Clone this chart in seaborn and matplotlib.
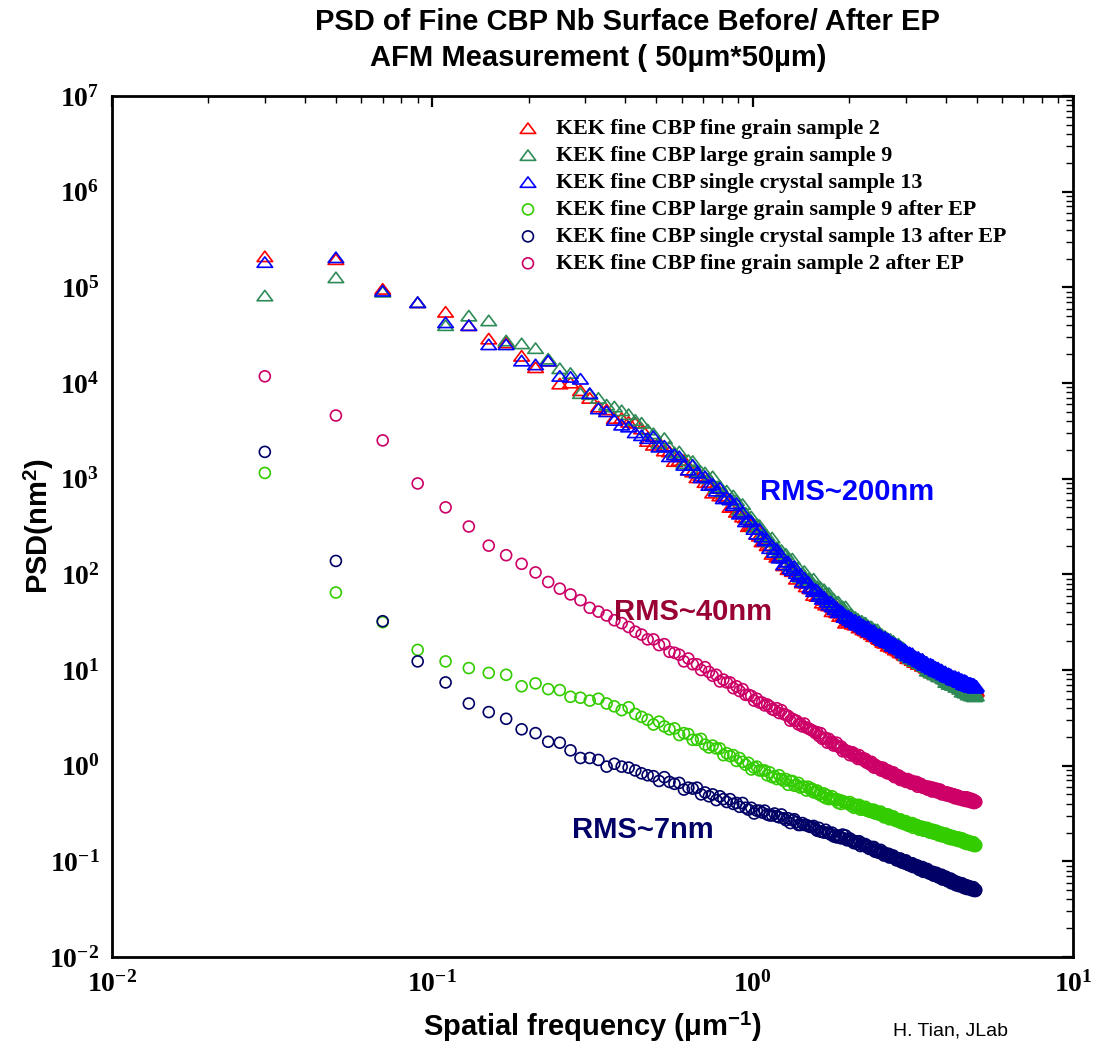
import numpy as np
import pandas as pd
import matplotlib
matplotlib.use("Agg")
import matplotlib.pyplot as plt
from matplotlib.path import Path
from matplotlib.ticker import FixedLocator, FuncFormatter, NullFormatter
import seaborn as sns

# ---------------------------------------------------------------------------
# AFM power spectral density, 50 um x 50 um scans.
# Frequencies follow the FFT grid: first bin 0.03 um^-1, step 0.02 um^-1.
# PSD values are stored as log10(PSD / nm^2).
# ---------------------------------------------------------------------------
f_start, f_step = 0.03, 0.02

# KEK fine CBP fine grain sample 2 (before EP)
fg2_before_log = [
    5.32, 5.29, 4.98, 4.84, 4.74, 4.60, 4.46, 4.42, 4.28, 4.16, 4.23, 3.99, 4.00,
    3.92, 3.84, 3.75, 3.72, 3.63, 3.63, 3.59, 3.58, 3.52, 3.39,
    3.35, 3.38, 3.29, 3.28, 3.18, 3.19, 3.19, 3.09, 3.07, 3.01,
    3.03, 2.96, 2.96, 2.85, 2.91, 2.82, 2.82, 2.80, 2.70, 2.71,
    2.65, 2.68, 2.60, 2.59, 2.50, 2.51, 2.52, 2.42, 2.40, 2.34,
    2.37, 2.30, 2.30, 2.21, 2.27, 2.18, 2.19, 2.18, 2.09, 2.10,
    2.05, 2.10, 2.03, 2.03, 1.95, 1.98, 2.00, 1.91, 1.92, 1.87,
    1.91, 1.85, 1.86, 1.78, 1.85, 1.77, 1.78, 1.79, 1.70, 1.73,
    1.68, 1.74, 1.67, 1.69, 1.61, 1.65, 1.68, 1.60, 1.60, 1.56,
    1.61, 1.56, 1.57, 1.49, 1.57,
    1.51, 1.53, 1.51, 1.48, 1.50, 1.47, 1.49, 1.48, 1.44, 1.45, 1.45, 1.42, 1.45,
    1.41, 1.41, 1.39, 1.41, 1.41, 1.37, 1.38, 1.35, 1.37, 1.35, 1.37, 1.33,
    1.32, 1.34, 1.31, 1.29, 1.31, 1.28, 1.31, 1.29, 1.25, 1.27, 1.27, 1.24, 1.27,
    1.23, 1.24, 1.21, 1.23, 1.24, 1.20, 1.20, 1.18, 1.20, 1.18, 1.20, 1.16,
    1.15, 1.18, 1.15, 1.12, 1.15, 1.12, 1.15, 1.13, 1.10, 1.11, 1.12, 1.08, 1.12,
    1.08, 1.09, 1.06, 1.09, 1.09, 1.06, 1.06, 1.04, 1.06, 1.05, 1.06, 1.03,
    1.02, 1.04, 1.02, 0.99, 1.02, 0.99, 1.02, 1.01, 0.97, 0.99, 1.00, 0.96, 1.00,
    0.96, 0.97, 0.95, 0.97, 0.98, 0.94, 0.95, 0.93, 0.95, 0.94, 0.95, 0.92,
    0.91, 0.94, 0.91, 0.89, 0.92, 0.89, 0.92, 0.91, 0.87, 0.89, 0.90, 0.87, 0.90,
    0.87, 0.88, 0.85, 0.88, 0.89, 0.85, 0.86, 0.84, 0.86, 0.85, 0.87, 0.83,
    0.83, 0.86, 0.84, 0.81, 0.84, 0.82, 0.85, 0.83, 0.80, 0.82, 0.83, 0.79, 0.83,
    0.80, 0.81, 0.78, 0.81, 0.82, 0.79, 0.79, 0.77, 0.80, 0.79, 0.81, 0.77, 0.78,
]

# KEK fine CBP large grain sample 9 (before EP)
lg9_before_log = [
    4.91, 5.10, 4.95, 4.84, 4.60, 4.70, 4.65, 4.44, 4.41, 4.36, 4.25, 4.15, 4.10,
    3.89, 3.88, 3.84, 3.77, 3.75, 3.71, 3.67, 3.61, 3.58, 3.51,
    3.47, 3.37, 3.42, 3.33, 3.27, 3.28, 3.16, 3.19, 3.18, 3.08,
    3.07, 3.06, 3.00, 3.02, 2.90, 2.92, 2.86, 2.87, 2.78, 2.82,
    2.77, 2.67, 2.73, 2.64, 2.59, 2.60, 2.49, 2.52, 2.51, 2.41,
    2.41, 2.40, 2.34, 2.38, 2.26, 2.28, 2.23, 2.25, 2.17, 2.21,
    2.17, 2.09, 2.16, 2.08, 2.04, 2.07, 1.97, 2.01, 2.03, 1.94,
    1.95, 1.95, 1.90, 1.95, 1.84, 1.87, 1.82, 1.86, 1.78, 1.84,
    1.80, 1.73, 1.80, 1.74, 1.70, 1.74, 1.65, 1.70, 1.71, 1.63,
    1.65, 1.66, 1.61, 1.66, 1.56,
    1.58, 1.54, 1.58, 1.55, 1.53, 1.55, 1.50, 1.53, 1.51, 1.49, 1.51, 1.47, 1.49,
    1.49, 1.45, 1.46, 1.43, 1.45, 1.45, 1.42, 1.42, 1.42, 1.38, 1.42, 1.39,
    1.37, 1.33, 1.37, 1.34, 1.32, 1.35, 1.30, 1.33, 1.31, 1.29, 1.32, 1.27, 1.29,
    1.30, 1.26, 1.26, 1.24, 1.26, 1.27, 1.23, 1.23, 1.24, 1.20, 1.23, 1.21,
    1.18, 1.15, 1.18, 1.15, 1.14, 1.16, 1.12, 1.14, 1.13, 1.11, 1.14, 1.09, 1.12,
    1.12, 1.09, 1.09, 1.07, 1.09, 1.10, 1.06, 1.07, 1.07, 1.04, 1.07, 1.05,
    1.03, 0.99, 1.03, 1.00, 0.99, 1.02, 0.97, 1.00, 0.98, 0.97, 1.00, 0.95, 0.98,
    0.98, 0.95, 0.96, 0.93, 0.96, 0.96, 0.93, 0.94, 0.94, 0.91, 0.94, 0.92,
    0.90, 0.87, 0.90, 0.88, 0.87, 0.89, 0.85, 0.88, 0.86, 0.85, 0.88, 0.84, 0.86,
    0.87, 0.84, 0.84, 0.82, 0.85, 0.85, 0.82, 0.83, 0.83, 0.80, 0.84, 0.81,
    0.80, 0.77, 0.81, 0.78, 0.77, 0.80, 0.76, 0.78, 0.77, 0.76, 0.79, 0.74, 0.77,
    0.78, 0.75, 0.75, 0.73, 0.76, 0.77, 0.73, 0.74, 0.75, 0.72, 0.76, 0.73, 0.73,
]

# KEK fine CBP single crystal sample 13 (before EP)
sc13_before_log = [
    5.26, 5.31, 4.96, 4.84, 4.63, 4.60, 4.40, 4.40, 4.23, 4.19, 4.23, 4.07, 4.06,
    4.04, 3.89, 3.73, 3.70, 3.61, 3.56, 3.54, 3.48, 3.45, 3.42,
    3.44, 3.33, 3.34, 3.23, 3.25, 3.23, 3.14, 3.09, 3.14, 3.06,
    3.01, 3.02, 2.93, 2.94, 2.87, 2.90, 2.79, 2.80, 2.78, 2.72,
    2.74, 2.63, 2.65, 2.55, 2.57, 2.55, 2.47, 2.42, 2.47, 2.39,
    2.35, 2.36, 2.27, 2.30, 2.23, 2.26, 2.17, 2.19, 2.10, 2.13,
    2.13, 2.06, 2.04, 2.08, 2.01, 1.98, 2.00, 1.92, 1.96, 1.91,
    1.92, 1.86, 1.85, 1.82, 1.84, 1.83, 1.77, 1.79, 1.74, 1.76,
    1.74, 1.71, 1.68, 1.71, 1.66, 1.68, 1.63, 1.65, 1.60, 1.62,
    1.61, 1.60, 1.55, 1.57, 1.54,
    1.56, 1.52, 1.54, 1.50, 1.51, 1.52, 1.48, 1.47, 1.50, 1.47, 1.45, 1.47, 1.43,
    1.45, 1.42, 1.45, 1.40, 1.41, 1.41, 1.39, 1.41, 1.37, 1.38, 1.35, 1.36,
    1.37, 1.33, 1.35, 1.31, 1.32, 1.34, 1.30, 1.29, 1.32, 1.29, 1.28, 1.29, 1.25,
    1.28, 1.25, 1.27, 1.23, 1.24, 1.25, 1.22, 1.24, 1.21, 1.22, 1.18, 1.20,
    1.21, 1.18, 1.19, 1.15, 1.17, 1.18, 1.15, 1.13, 1.17, 1.14, 1.13, 1.14, 1.11,
    1.13, 1.11, 1.13, 1.09, 1.10, 1.11, 1.08, 1.11, 1.07, 1.09, 1.05, 1.07,
    1.08, 1.05, 1.06, 1.03, 1.04, 1.06, 1.03, 1.01, 1.05, 1.02, 1.01, 1.03, 0.99,
    1.02, 0.99, 1.02, 0.98, 0.99, 1.00, 0.97, 1.00, 0.97, 0.98, 0.95, 0.96,
    0.98, 0.95, 0.96, 0.93, 0.95, 0.96, 0.93, 0.92, 0.95, 0.93, 0.92, 0.93, 0.90,
    0.93, 0.90, 0.93, 0.89, 0.91, 0.91, 0.89, 0.92, 0.88, 0.90, 0.87, 0.88,
    0.90, 0.87, 0.89, 0.85, 0.87, 0.89, 0.86, 0.84, 0.88, 0.86, 0.85, 0.86, 0.83,
    0.86, 0.84, 0.86, 0.82, 0.84, 0.85, 0.82, 0.85, 0.82, 0.84, 0.81, 0.82, 0.83,
]

# KEK fine CBP large grain sample 9 after EP
lg9_after_log = [
    3.06, 1.81, 1.50, 1.21, 1.09, 1.02, 0.97, 0.95, 0.83, 0.86, 0.80, 0.79, 0.72,
    0.71, 0.68, 0.70, 0.65, 0.62, 0.58, 0.61, 0.54, 0.51, 0.48,
    0.43, 0.46, 0.41, 0.38, 0.39, 0.32, 0.34, 0.33, 0.27, 0.27,
    0.28, 0.22, 0.19, 0.21, 0.18, 0.18, 0.11, 0.13, 0.10, 0.11,
    0.05, 0.08, 0.04, 0.01, 0.03, -0.04, -0.02, -0.01, -0.05, -0.05,
    -0.05, -0.10, -0.07, -0.12, -0.11, -0.14, -0.10, -0.14, -0.16, -0.14,
    -0.20, -0.16, -0.16, -0.21, -0.20, -0.18, -0.23, -0.22, -0.22, -0.26,
    -0.22, -0.25, -0.24, -0.28, -0.27, -0.26, -0.30, -0.29, -0.32, -0.29,
    -0.34, -0.31, -0.35, -0.34, -0.32, -0.35, -0.36, -0.35, -0.39, -0.36,
    -0.40, -0.37, -0.38, -0.39, -0.39,
    -0.40, -0.38, -0.42, -0.40, -0.44, -0.42, -0.41, -0.44, -0.41, -0.46, -0.43,
    -0.44, -0.46, -0.43, -0.47, -0.45, -0.48, -0.47, -0.46, -0.49, -0.46, -0.50,
    -0.49, -0.48, -0.51,
    -0.50, -0.48, -0.52, -0.50, -0.54, -0.52, -0.51, -0.54, -0.51, -0.56, -0.53,
    -0.54, -0.56, -0.53, -0.57, -0.55, -0.58, -0.57, -0.56, -0.59, -0.56, -0.60,
    -0.59, -0.58, -0.61,
    -0.60, -0.58, -0.62, -0.60, -0.63, -0.61, -0.61, -0.63, -0.60, -0.65, -0.62,
    -0.63, -0.64, -0.62, -0.65, -0.63, -0.67, -0.65, -0.64, -0.66, -0.64, -0.68,
    -0.66, -0.65, -0.68,
    -0.67, -0.65, -0.69, -0.67, -0.70, -0.68, -0.67, -0.70, -0.67, -0.71, -0.68,
    -0.70, -0.71, -0.68, -0.71, -0.70, -0.73, -0.71, -0.70, -0.73, -0.70, -0.74,
    -0.72, -0.72, -0.74,
    -0.73, -0.71, -0.74, -0.73, -0.76, -0.74, -0.73, -0.75, -0.73, -0.77, -0.74,
    -0.75, -0.76, -0.74, -0.77, -0.75, -0.78, -0.76, -0.76, -0.78, -0.75, -0.79,
    -0.77, -0.77, -0.79,
    -0.78, -0.76, -0.79, -0.78, -0.81, -0.79, -0.78, -0.80, -0.78, -0.82, -0.79,
    -0.80, -0.81, -0.79, -0.82, -0.80, -0.83, -0.81, -0.81, -0.83, -0.80, -0.84,
    -0.82, -0.82, -0.84, -0.83,
]

# KEK fine CBP single crystal sample 13 after EP
sc13_after_log = [
    3.28, 2.14, 1.51, 1.09, 0.87, 0.65, 0.56, 0.49, 0.38, 0.34, 0.25, 0.24, 0.16,
    0.08, 0.08, 0.06, -0.01, 0.02, -0.01, -0.02, -0.05, -0.08, -0.10,
    -0.11, -0.16, -0.12, -0.17, -0.19, -0.18, -0.25, -0.23, -0.24, -0.23,
    -0.30, -0.28, -0.32, -0.30, -0.36, -0.32, -0.35, -0.38, -0.35, -0.40,
    -0.39, -0.43, -0.39, -0.44, -0.46, -0.44, -0.50, -0.47, -0.47, -0.49,
    -0.47, -0.51, -0.52, -0.52, -0.50, -0.53, -0.54, -0.51, -0.55, -0.57,
    -0.55, -0.60, -0.57, -0.56, -0.59, -0.62, -0.62, -0.60, -0.62, -0.62,
    -0.63, -0.64, -0.64, -0.63, -0.66, -0.68, -0.65, -0.69, -0.69, -0.70,
    -0.67, -0.70, -0.70, -0.72, -0.70, -0.74, -0.73, -0.75, -0.73, -0.74,
    -0.76, -0.72, -0.76, -0.73, -0.78,
    -0.77, -0.76, -0.79, -0.78, -0.81, -0.80, -0.79, -0.82, -0.79, -0.84, -0.81,
    -0.83, -0.84, -0.82, -0.85, -0.84, -0.87, -0.86, -0.85, -0.88, -0.85, -0.90,
    -0.88, -0.88, -0.91,
    -0.90, -0.88, -0.92, -0.90, -0.94, -0.92, -0.92, -0.94, -0.92, -0.96, -0.93,
    -0.95, -0.96, -0.94, -0.97, -0.96, -0.99, -0.98, -0.97, -0.99, -0.97, -1.01,
    -1.00, -0.99, -1.02,
    -1.01, -0.99, -1.03, -1.01, -1.04, -1.03, -1.02, -1.05, -1.02, -1.06, -1.04,
    -1.05, -1.06, -1.04, -1.07, -1.05, -1.09, -1.07, -1.07, -1.09, -1.06, -1.11,
    -1.09, -1.08, -1.11,
    -1.10, -1.08, -1.12, -1.10, -1.13, -1.12, -1.11, -1.13, -1.11, -1.15, -1.12,
    -1.14, -1.15, -1.12, -1.16, -1.14, -1.17, -1.15, -1.15, -1.17, -1.14, -1.19,
    -1.17, -1.16, -1.19,
    -1.18, -1.16, -1.20, -1.18, -1.21, -1.19, -1.19, -1.21, -1.18, -1.23, -1.20,
    -1.21, -1.22, -1.20, -1.23, -1.21, -1.25, -1.23, -1.22, -1.24, -1.22, -1.26,
    -1.24, -1.23, -1.26,
    -1.25, -1.23, -1.26, -1.25, -1.28, -1.26, -1.25, -1.27, -1.25, -1.29, -1.26,
    -1.27, -1.28, -1.26, -1.29, -1.27, -1.30, -1.28, -1.28, -1.30, -1.27, -1.31,
    -1.29, -1.29, -1.31, -1.30,
]

# KEK fine CBP fine grain sample 2 after EP
fg2_after_log = [
    4.07, 3.66, 3.40, 2.95, 2.70, 2.50, 2.30, 2.20, 2.11, 2.02, 1.92, 1.85, 1.79,
    1.73, 1.65, 1.61, 1.57, 1.52, 1.49, 1.45, 1.40, 1.37, 1.32,
    1.32, 1.26, 1.27, 1.19, 1.18, 1.16, 1.09, 1.12, 1.06, 1.06,
    1.00, 1.03, 0.98, 0.94, 0.95, 0.88, 0.90, 0.87, 0.87, 0.81,
    0.83, 0.78, 0.80, 0.74, 0.74, 0.73, 0.68, 0.70, 0.66, 0.66,
    0.63, 0.64, 0.62, 0.59, 0.58, 0.60, 0.55, 0.58, 0.54, 0.53,
    0.52, 0.47, 0.49, 0.47, 0.47, 0.43, 0.44, 0.41, 0.44, 0.40,
    0.39, 0.38, 0.37, 0.36, 0.34, 0.35, 0.31, 0.34, 0.28, 0.29,
    0.29, 0.24, 0.28, 0.24, 0.25, 0.21, 0.22, 0.24, 0.20, 0.19,
    0.20, 0.15, 0.17, 0.15, 0.15,
    0.15, 0.11, 0.13, 0.14, 0.10, 0.12, 0.10, 0.07, 0.11, 0.07, 0.07, 0.08, 0.05,
    0.07, 0.03, 0.04, 0.04, 0.01, 0.04, 0.01, -0.02, 0.01, -0.02, -0.02, -0.01,
    -0.02, -0.05, -0.04, -0.02, -0.06, -0.04, -0.06, -0.08, -0.05, -0.08, -0.08,
    -0.07, -0.10, -0.07, -0.12, -0.10, -0.10, -0.12, -0.10, -0.12, -0.15, -0.12,
    -0.15, -0.14, -0.14,
    -0.14, -0.17, -0.16, -0.14, -0.17, -0.16, -0.17, -0.19, -0.16, -0.19, -0.18,
    -0.18, -0.20, -0.17, -0.22, -0.20, -0.19, -0.21, -0.19, -0.21, -0.23, -0.21,
    -0.23, -0.22, -0.22,
    -0.22, -0.25, -0.24, -0.22, -0.25, -0.23, -0.24, -0.27, -0.23, -0.26, -0.25,
    -0.25, -0.27, -0.24, -0.28, -0.27, -0.26, -0.28, -0.25, -0.28, -0.30, -0.27,
    -0.29, -0.29, -0.28,
    -0.28, -0.31, -0.29, -0.28, -0.31, -0.29, -0.30, -0.32, -0.29, -0.32, -0.31,
    -0.30, -0.32, -0.30, -0.34, -0.32, -0.31, -0.33, -0.31, -0.33, -0.35, -0.32,
    -0.34, -0.34, -0.33,
    -0.33, -0.36, -0.34, -0.33, -0.36, -0.34, -0.35, -0.37, -0.33, -0.36, -0.36,
    -0.35, -0.37, -0.34, -0.38, -0.36, -0.36, -0.38, -0.35, -0.37, -0.39, -0.36,
    -0.39, -0.38, -0.37, -0.38,
]

series_names = [
    "KEK fine CBP fine grain sample 2",
    "KEK fine CBP large grain sample 9",
    "KEK fine CBP single crystal sample 13",
    "KEK fine CBP large grain sample 9 after EP",
    "KEK fine CBP single crystal sample 13 after EP",
    "KEK fine CBP fine grain sample 2 after EP",
]
series_logs = [fg2_before_log, lg9_before_log, sc13_before_log,
               lg9_after_log, sc13_after_log, fg2_after_log]
series_colors = ["#FF0000", "#2E8B57", "#0000FF", "#33CC00", "#000066", "#CC0066"]
series_before = [True, True, True, False, False, False]

n_bins = len(fg2_before_log)
for vals in series_logs:
    assert len(vals) == n_bins, len(vals)
freq = f_start + f_step * np.arange(n_bins)

frames = []
for name, vals in zip(series_names, series_logs):
    frames.append(pd.DataFrame({"freq": freq, "psd": np.power(10.0, vals), "sample": name}))
psd_df = pd.concat(frames, ignore_index=True)

# axis decades
x_decades = [-2, -1, 0, 1]
y_decades = [-2, -1, 0, 1, 2, 3, 4, 5, 6, 7]

# ---------------------------------------------------------------------------
sns.set_style("white")
plt.rcParams.update({
    "font.family": ["Liberation Serif", "DejaVu Serif"],
    "font.weight": "bold",
    "mathtext.fontset": "custom",
    "mathtext.rm": "Liberation Serif:bold",
    "mathtext.bf": "Liberation Serif:bold",
    "mathtext.it": "Liberation Serif:bold:italic",
    "axes.linewidth": 2.0,
    "text.color": "black",
    "axes.labelcolor": "black",
    "xtick.color": "black",
    "ytick.color": "black",
    "xtick.labelsize": 20,
    "ytick.labelsize": 20,
})

fig = plt.figure(figsize=(11.04, 10.52), dpi=100)
ax = fig.add_axes([112 / 1104, 1 - 957 / 1052, 961 / 1104, 861 / 1052])

# open triangle, a little wider than tall (closed outline)
tri = Path([(-1.0, -0.62), (1.0, -0.62), (0.0, 0.72), (-1.0, -0.62)], closed=True)

for name, color, before in zip(series_names, series_colors, series_before):
    sub = psd_df[psd_df["sample"] == name]
    sns.scatterplot(
        data=sub, x="freq", y="psd", ax=ax,
        marker=tri if before else "o",
        s=125 if before else 62,
        facecolors="none", edgecolor=color, linewidth=1.2,
        label=name, zorder=3,
    )

ax.set_xscale("log")
ax.set_yscale("log")
ax.set_xlim(10.0 ** x_decades[0], 10.0 ** x_decades[-1])
ax.set_ylim(10.0 ** y_decades[0], 10.0 ** y_decades[-1])


def minor_positions(decades):
    return [m * 10.0 ** d for d in decades[:-1] for m in range(2, 10)]


dec_fmt = FuncFormatter(lambda v, p: r"$\mathdefault{10^{%d}}$" % int(round(np.log10(v))))
for axis, decs in ((ax.xaxis, x_decades), (ax.yaxis, y_decades)):
    axis.set_major_locator(FixedLocator([10.0 ** d for d in decs]))
    axis.set_minor_locator(FixedLocator(minor_positions(decs)))
    axis.set_major_formatter(dec_fmt)
    axis.set_minor_formatter(NullFormatter())

ax.tick_params(which="both", direction="in", top=True, right=True)
ax.tick_params(which="major", length=8, width=1.6, color="black")
ax.tick_params(which="minor", length=5, width=1.0, color="black")
ax.tick_params(axis="y", which="major", pad=9)
ax.tick_params(axis="x", which="major", pad=10)
for sp in ax.spines.values():
    sp.set_color("black")
    sp.set_linewidth(2.0)

sans = "Liberation Sans"
ax.set_xlabel(r"Spatial frequency ($\mathdefault{\mu}$m$^{\mathdefault{-1}}$)",
              fontsize=21, fontweight="bold", family=sans, color="black")
ax.set_ylabel(r"PSD(nm$^{\mathdefault{2}}$)", fontsize=21, fontweight="bold",
              family=sans, color="black")
ax.xaxis.set_label_coords(0.5, -0.062)
ax.yaxis.set_label_coords(-0.058, 0.5)

handles, labels = ax.get_legend_handles_labels()
ax.legend(handles, labels, loc="upper left",
          bbox_to_anchor=(517 / 1104, 1 - 119 / 1052), bbox_transform=fig.transFigure,
          frameon=False, borderpad=0, borderaxespad=0, handlelength=1.0,
          handletextpad=0.8, labelspacing=0.3, scatterpoints=1, markerscale=1.0,
          prop={"family": "Liberation Serif", "weight": "bold", "size": 15.8})

# roughness annotations
ax.text(847 / 1104, 1 - 492 / 1052, "RMS~200nm", transform=fig.transFigure,
        ha="center", va="center", fontsize=21, fontweight="bold", family=sans, color="#0000FF")
ax.text(693 / 1104, 1 - 612 / 1052, "RMS~40nm", transform=fig.transFigure,
        ha="center", va="center", fontsize=21, fontweight="bold", family=sans, color="#990033")
ax.text(643 / 1104, 1 - 830 / 1052, "RMS~7nm", transform=fig.transFigure,
        ha="center", va="center", fontsize=21, fontweight="bold", family=sans, color="#000066")

fig.text(627 / 1104, 1 - 22 / 1052, "PSD of Fine CBP Nb Surface Before/ After EP",
         ha="center", va="center", fontsize=21, fontweight="bold", family=sans, color="black")
fig.text(370 / 1104, 1 - 58 / 1052, "AFM Measurement ( 50\u00b5m*50\u00b5m)",
         ha="left", va="center", fontsize=21, fontweight="bold", family=sans, color="black")
fig.text(893 / 1104, 1 - 1031 / 1052, "H. Tian, JLab",
         ha="left", va="center", fontsize=14, fontweight="normal", family=sans, color="black")

fig.savefig("out.png", dpi=100, facecolor="white")
